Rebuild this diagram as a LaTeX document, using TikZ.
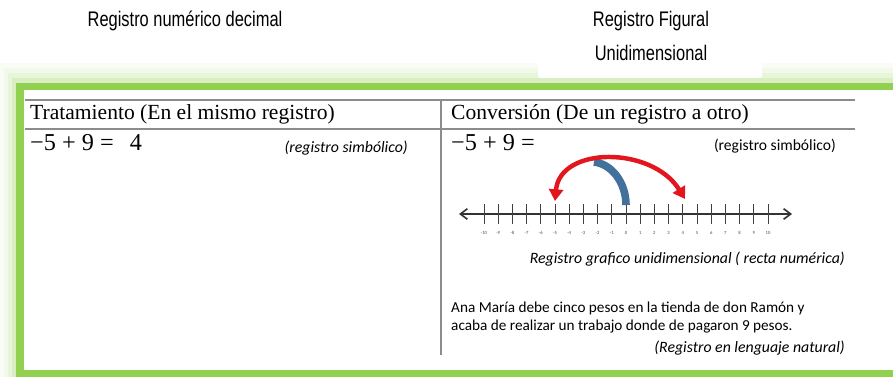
\documentclass[tikz,border=0pt]{standalone}
\usepackage{fontspec}
\setmainfont{Liberation Serif}
\newfontfamily\arialfont[FakeStretch=0.78]{Liberation Sans}
\newfontfamily\calfont{Carlito}
\usetikzlibrary{arrows.meta}

\definecolor{framegreen}{HTML}{92D050}
\definecolor{arcred}{HTML}{E3161E}
\definecolor{arcblue}{HTML}{41719C}
\definecolor{rulegray}{HTML}{8C8C8C}

\tikzset{
  titulo/.style={font=\arialfont\fontsize{18}{20}\selectfont, inner sep=0pt},
  cabecera/.style={anchor=west, inner sep=0pt, font=\fontsize{18.4}{20}\selectfont},
  ecuacion/.style={anchor=west, inner sep=0pt, font=\fontsize{20.7}{22}\selectfont},
  nota/.style={anchor=east, inner sep=0pt, font=\calfont\itshape\fontsize{13.5}{15}\selectfont},
  texto/.style={anchor=west, inner sep=0pt, font=\calfont\fontsize{13}{15}\selectfont},
  regla/.style={rulegray, line width=1.2pt},
  marca/.style={black!75, line width=0.7pt},
  etiq/.style={font=\calfont\fontsize{4}{4}\selectfont, inner sep=0pt, black!70},
}

\begin{document}
\begin{tikzpicture}[x=0.03cm, y=-0.03cm]
\useasboundingbox (0,0) rectangle (893,377);

% marco verde con halo
\foreach \s/\c in {20/6,15/12,10/22,5/35}
  \fill[framegreen!\c] (16-0.8*\s,83-\s) rectangle (893,377);
\fill[framegreen] (16,83) rectangle (893,377);
\fill[white] (24,90) rectangle (893,370);
\fill[white, rounded corners=2pt] (538,30) rectangle (762,78);

% titulos
\node[titulo] (tnum) at (185,21) {Registro numérico decimal};
\node[titulo] (tfig1) at (651,21) {Registro Figural};
\node[titulo] (tfig2) at (651,53) {Unidimensional};

% tabla
\draw[regla] (25,100) -- (855,100);
\draw[regla] (25,129) -- (855,129);
\draw[regla] (441,100) -- (441,355);

\node[cabecera] (htrat) at (30,114) {Tratamiento (En el mismo registro)};
\node[cabecera] (hconv) at (451,114) {Conversión (De un registro a otro)};

\node[ecuacion] (eq1) at (30,143) {−5 + 9 =\ \ \,4};
\node[nota] (sim1) at (408,148) {(registro simbólico)};
\node[ecuacion] (eq2) at (451,143) {−5 + 9 =};
\node[nota, font=\calfont\fontsize{13.3}{15}\selectfont] (sim2) at (836,146) {(registro simbólico)};

% recta numerica
\coordinate (izq) at (459,214);
\coordinate (der) at (792,214);
\draw[black!80, line width=1.4pt, {Straight Barb[length=6pt,width=9pt]}-{Straight Barb[length=6pt,width=9pt]}] (izq) -- (der);
\foreach \i in {-10,...,10} {
  \coordinate (t\i) at (626+14.2*\i,214);
  \draw[marca] (626+14.2*\i,204) -- (626+14.2*\i,224);
  \node[etiq] (n\i) at (626+14.2*\i,233) {\i};
}

% saltos
\coordinate (b0) at (626,205);
\coordinate (cima) at (594,162);
\coordinate (r1) at (555,201);
\coordinate (r2) at (685,199);
\draw[arcblue, line width=6.5pt] (b0) .. controls (626,183) and (612,164) .. (cima);
\draw[arcred, line width=3.8pt, {Triangle[length=10pt,width=12pt]}-{Triangle[length=10pt,width=12pt]}]
  (r1) .. controls (560,146) and (652,146) .. (r2);

\node[nota] (graf) at (845,259) {Registro grafico unidimensional ( recta numérica)};
\node[texto] (ana) at (451,308) {Ana María debe cinco pesos en la tienda de don Ramón y};
\node[texto] (acaba) at (451,327) {acaba de realizar un trabajo donde de pagaron 9 pesos.};
\node[nota] (nat) at (845,348) {(Registro en lenguaje natural)};
\end{tikzpicture}
\end{document}
